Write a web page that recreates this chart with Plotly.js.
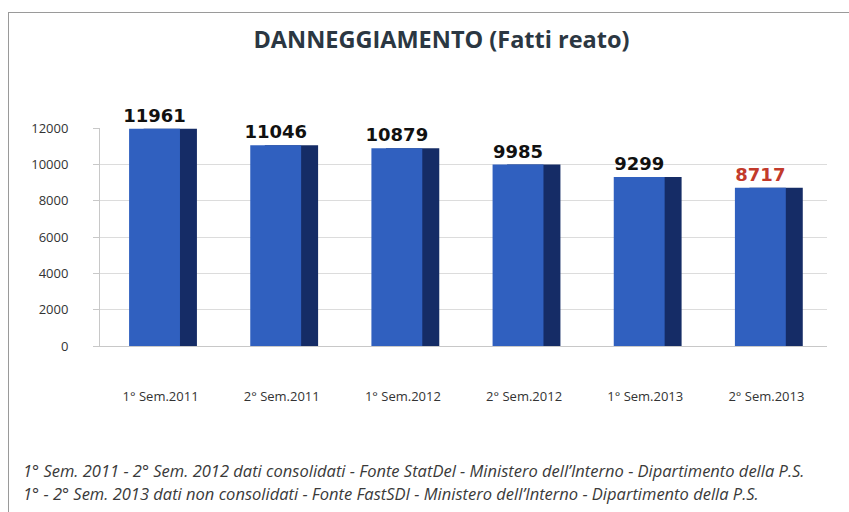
<!DOCTYPE html>
<html>
<head>
<meta charset="utf-8">
<script src="https://cdn.plot.ly/plotly-3.0.1.min.js"></script>
<style>
html,body{margin:0;padding:0;background:#fff;}
#wrap{position:relative;width:849px;height:512px;overflow:hidden;}
#chart{width:849px;height:512px;}
#frame{position:absolute;left:8px;top:12px;width:900px;height:600px;border-left:1.5px solid #9a9a9a;border-top:1.5px solid #9a9a9a;pointer-events:none;}
</style>
</head>
<body>
<div id="wrap"><div id="chart"></div><div id="frame"></div></div>
<script>
const categories = ["1° Sem.2011","2° Sem.2011","1° Sem.2012","2° Sem.2012","1° Sem.2013","2° Sem.2013"];
const values = [11961, 11046, 10879, 9985, 9299, 8717];
const labelColors = ["#111111","#111111","#111111","#111111","#111111","#c23a2b"];
const yTicks = [0, 2000, 4000, 6000, 8000, 10000, 12000];
const footnotes = [
  "1° Sem. 2011 - 2° Sem. 2012 dati consolidati - Fonte StatDel - Ministero dell’Interno - Dipartimento della P.S.",
  "1° - 2° Sem. 2013 dati non consolidati - Fonte FastSDI - Ministero dell’Interno - Dipartimento della P.S."
];

const side = {
  type: 'bar', x: categories, y: values,
  width: 0.44, offset: -0.14,
  marker: {color: '#152c66', line: {width: 0}},
  hoverinfo: 'skip', showlegend: false
};
const front = {
  type: 'bar', x: categories, y: values,
  width: 0.42, offset: -0.26,
  marker: {color: '#3060bf', line: {width: 0}},
  text: values.map(String), textposition: 'outside',
  constraintext: 'none', cliponaxis: false,
  textfont: {family: 'DejaVu Sans, sans-serif', size: 18, color: labelColors, weight: 'bold'},
  showlegend: false
};

const fontTick = {family: 'Open Sans, sans-serif', size: 13, color: '#333'};

const layout = {
  width: 849, height: 512,
  margin: {l: 100, r: 22, t: 128, b: 166},
  paper_bgcolor: '#ffffff', plot_bgcolor: '#ffffff',
  barmode: 'overlay',
  title: {text: '<b>DANNEGGIAMENTO (Fatti reato)</b>', x: 0.52, xanchor: 'center', y: 0.922, yanchor: 'middle',
          font: {family: 'Open Sans, sans-serif', size: 23.5, color: '#2b3742'}},
  xaxis: {type: 'category', showgrid: false, showline: true, linecolor: '#c8c8c8', ticks: '',
          tickfont: fontTick, ticklabelstandoff: 38},
  yaxis: {range: [0, 12000], tickvals: yTicks, ticktext: yTicks.map(String), showgrid: true, gridcolor: '#dcdcdc',
          zeroline: false, showline: true, linecolor: '#c8c8c8', ticks: 'outside', ticklen: 6, tickcolor: '#c8c8c8',
          tickfont: fontTick, ticklabelstandoff: 22},
  annotations: footnotes.map((t, i) => ({
     xref: 'paper', yref: 'paper', x: -0.108, y: -0.572 - i * 0.106, xanchor: 'left', yanchor: 'middle', align: 'left', showarrow: false,
     text: '<i>' + t + '</i>',
     font: {family: 'Open Sans, sans-serif', size: 16.5, color: '#3a3a3a'}}))
};

Plotly.newPlot('chart', [side, front], layout, {displayModeBar: false, staticPlot: true});
</script>
</body>
</html>
